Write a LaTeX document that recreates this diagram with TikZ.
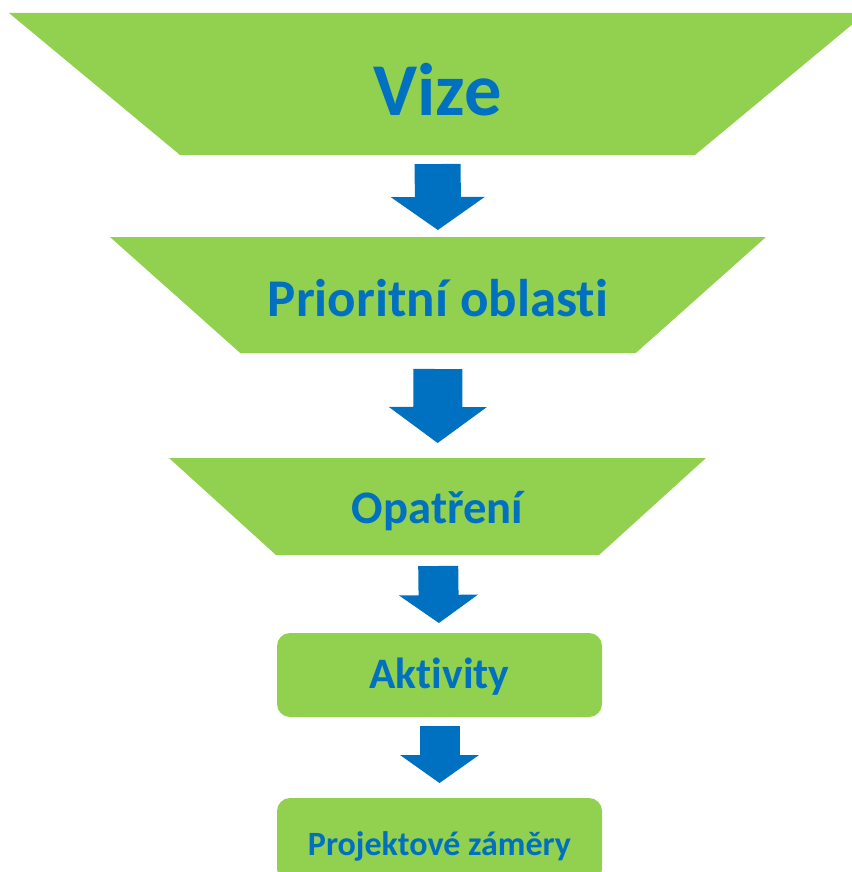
\documentclass[tikz,border=0pt]{standalone}
\usepackage{fontspec}
\setmainfont{Carlito}[Ligatures=NoCommon]
\usetikzlibrary{calc}
\usetikzlibrary{shapes,arrows}
\usetikzlibrary{arrows.meta}
\definecolor{zelena}{HTML}{92D050}
\definecolor{modra}{HTML}{0070C0}

\tikzset{
    lichobeznik/.style={trapezium, trapezium stretches body, shape border rotate=180,
        fill=zelena, inner xsep=0pt, outer sep=0pt, text=modra, text depth=0pt},
    ramecek/.style={rectangle, rounded corners=13pt, fill=zelena, minimum width=325pt,
        minimum height=84pt, inner sep=0pt, outer sep=0pt, text=modra, text depth=0pt}
}

\begin{document}
\begin{tikzpicture}[x=1pt, y=-1pt]
    \useasboundingbox (0,0) rectangle (851,872);

    \node[lichobeznik, minimum width=857pt, inner ysep=39pt, trapezium angle=39.7,
        text height=64pt, font=\bfseries\fontsize{74.5}{80}\selectfont] (vize) at (437.5,84) {Vize};
    \node[lichobeznik, minimum width=656pt, inner ysep=37pt, trapezium angle=41.7,
        text height=42pt, font=\bfseries\fontsize{53}{58}\selectfont] (prio) at (438,295) {Prioritní oblasti};
    \node[lichobeznik, minimum width=537pt, inner ysep=32pt, trapezium angle=42.2,
        text height=33pt, font=\bfseries\fontsize{46.6}{50}\selectfont] (opat) at (437.5,506.5) {Opatření};
    \node[ramecek, text height=26pt, font=\bfseries\fontsize{43.5}{48}\selectfont] (akt) at (439.5,675) {Aktivity};
    \node[ramecek, text height=30pt, font=\bfseries\fontsize{34}{38}\selectfont] (proj) at (439.5,840) {Projektové záměry};

    \foreach \a/\b/\od/\po/\sirka/\hrot/\delka in {vize/prio/9/7/46/94/33,
                                                  prio/opat/16/15/49/98/36,
                                                  opat/akt/11/10/40/79/28,
                                                  akt/proj/9/15/40/79/28}{
        \draw[modra, line width=\sirka pt, -{Triangle[length=\delka pt, width=\hrot pt, line width=0pt]},
            shorten <=\od pt, shorten >=\po pt] (\a) -- (\b);
    }

\end{tikzpicture}
\end{document}
